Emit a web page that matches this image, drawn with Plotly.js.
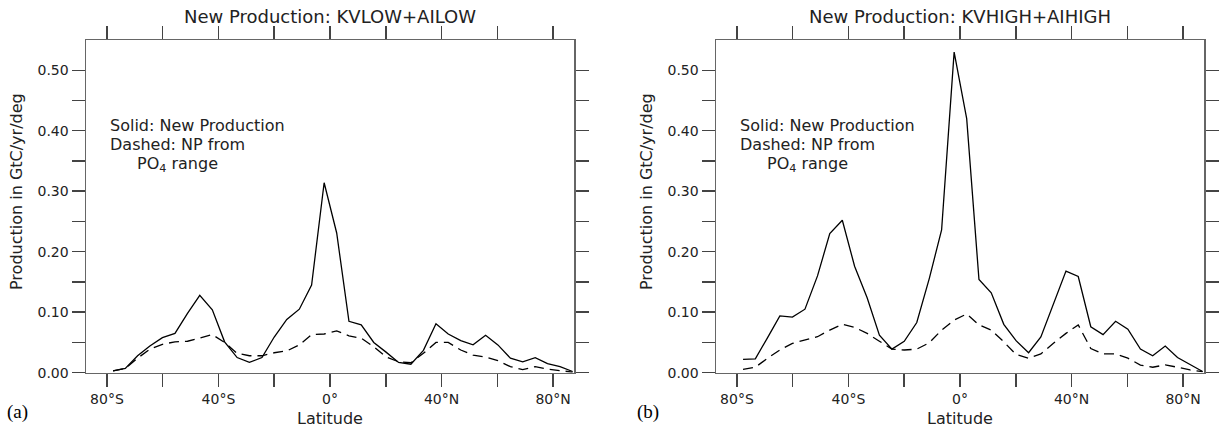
<!DOCTYPE html>
<html>
<head>
<meta charset="utf-8">
<script src="https://cdn.plot.ly/plotly-3.0.1.min.js"></script>
<style>html,body{margin:0;padding:0;background:#fff;}#chart{width:1220px;height:430px;}</style>
</head>
<body>
<div id="chart"></div>
<script>
// Latitude grid (degrees, negative = south)
const lat = [-77.8, -73.4, -69.0, -64.6, -60.1, -55.6, -51.1, -46.7, -42.2, -37.8,
  -33.3, -28.9, -24.4, -20.0, -15.5, -11.0, -6.6, -2.1, 2.4, 6.8,
  11.2, 15.7, 20.1, 24.6, 29.0, 33.5, 38.0, 42.4, 46.9, 51.3,
  55.8, 60.2, 64.7, 69.1, 73.6, 78.0, 82.5, 87.0];

// (a) KVLOW+AILOW
const lowSolid = [0.003, 0.007, 0.028, 0.044, 0.058, 0.065, 0.098, 0.128, 0.104, 0.051,
  0.025, 0.017, 0.025, 0.059, 0.088, 0.105, 0.145, 0.314, 0.231, 0.085,
  0.079, 0.050, 0.034, 0.017, 0.014, 0.037, 0.081, 0.064, 0.053, 0.046,
  0.062, 0.046, 0.024, 0.018, 0.025, 0.015, 0.010, 0.002];
const lowDashed = [0.003, 0.007, 0.024, 0.039, 0.047, 0.051, 0.052, 0.057, 0.063, 0.050,
  0.032, 0.028, 0.028, 0.033, 0.036, 0.046, 0.063, 0.064, 0.069, 0.061,
  0.057, 0.043, 0.026, 0.018, 0.0165, 0.032, 0.050, 0.050, 0.0375, 0.029,
  0.026, 0.020, 0.010, 0.005, 0.010, 0.006, 0.003, 0.001];

// (b) KVHIGH+AIHIGH
const highSolid = [0.022, 0.023, 0.058, 0.094, 0.092, 0.105, 0.160, 0.230, 0.252, 0.176,
  0.124, 0.062, 0.039, 0.052, 0.083, 0.156, 0.236, 0.530, 0.420, 0.154,
  0.132, 0.080, 0.053, 0.033, 0.059, 0.113, 0.168, 0.159, 0.076, 0.063,
  0.085, 0.072, 0.039, 0.028, 0.044, 0.025, 0.014, 0.002];
const highDashed = [0.0056, 0.009, 0.024, 0.0375, 0.0485, 0.054, 0.0595, 0.0705, 0.080, 0.075,
  0.065, 0.052, 0.039, 0.0375, 0.039, 0.0495, 0.0705, 0.087, 0.097, 0.079,
  0.0705, 0.051, 0.030, 0.024, 0.031, 0.0485, 0.065, 0.079, 0.040, 0.031,
  0.031, 0.024, 0.0127, 0.009, 0.013, 0.009, 0.0045, 0.0017];

// Ticks
const xTickVals = [-80, -60, -40, -20, 0, 20, 40, 60, 80];
const xTickText = ['80°S', '', '40°S', '', '0°', '', '40°N', '', '80°N'];
const yTickVals = [0, 0.05, 0.10, 0.15, 0.20, 0.25, 0.30, 0.35, 0.40, 0.45, 0.50];
const yTickText = ['0.00', '', '0.10', '', '0.20', '', '0.30', '', '0.40', '', '0.50'];

const panelTitles = ['New Production: KVLOW+AILOW', 'New Production: KVHIGH+AIHIGH'];
const panelLetters = ['(a)', '(b)'];
const yTitle = 'Production in GtC/yr/deg';
const noteLines = ['Solid: New Production', 'Dashed: NP from', 'PO<sub>4</sub> range'];

const FONT = 'DejaVu Sans, sans-serif';
const TXT = '#222';

function line(y, xa, ya, dashed) {
  return {
    x: lat, y: y, xaxis: xa, yaxis: ya, type: 'scatter', mode: 'lines',
    line: {color: '#000', width: 1.3, dash: dashed ? '10px,6px' : 'solid'},
    hoverinfo: 'skip', showlegend: false
  };
}

const data = [
  line(lowSolid, 'x', 'y', false),
  line(lowDashed, 'x', 'y', true),
  line(highSolid, 'x2', 'y2', false),
  line(highDashed, 'x2', 'y2', true)
];

function xax(domain, anchor) {
  return {
    domain: domain, anchor: anchor, range: [-87.5, 87.5], automargin: false,
    showgrid: false, zeroline: false, showline: true, linecolor: '#666', linewidth: 1.5,
    mirror: 'ticks', ticks: 'outside', ticklen: 13, tickwidth: 1.5, tickcolor: '#444',
    tickmode: 'array', tickvals: xTickVals, ticktext: xTickText,
    tickfont: {family: FONT, size: 14, color: TXT},
    title: {text: 'Latitude', font: {family: FONT, size: 16, color: TXT}, standoff: 7}
  };
}
function yax(anchor) {
  return {
    domain: [57.3 / 430, 390 / 430], anchor: anchor, range: [0, 0.55], automargin: false,
    showgrid: false, zeroline: false, showline: true, linecolor: '#666', linewidth: 1.5,
    mirror: 'ticks', ticks: 'outside', ticklen: 13, tickwidth: 1.5, tickcolor: '#444',
    tickmode: 'array', tickvals: yTickVals, ticktext: yTickText,
    tickfont: {family: FONT, size: 14, color: TXT}
  };
}

const annotations = [];
const xrefs = ['x', 'x2'];
const yrefs = ['y', 'y2'];
const xCenters = [330 / 1220, 960 / 1220];
for (let i = 0; i < 2; i++) {
  annotations.push({
    text: panelTitles[i], xref: 'paper', yref: 'paper', x: xCenters[i], y: (430 - 16) / 430,
    xanchor: 'center', yanchor: 'middle', showarrow: false,
    font: {family: FONT, size: 18, color: TXT}
  });
  annotations.push({
    text: panelLetters[i], xref: 'paper', yref: 'paper', x: (5 + 630 * i) / 1220, y: (430 - 412) / 430,
    xanchor: 'left', yanchor: 'middle', showarrow: false,
    font: {family: 'Liberation Serif, serif', size: 19, color: '#000'}
  });
  annotations.push({
    text: yTitle, xref: 'paper', yref: 'paper', x: (16 + 630 * i) / 1220, y: (430 - 192) / 430,
    xanchor: 'center', yanchor: 'middle', textangle: -90, showarrow: false,
    font: {family: FONT, size: 16, color: TXT}
  });
  const noteX = [-79.7, -79.7, -69.8];
  const noteY = [0.408, 0.377, 0.345];
  for (let k = 0; k < 3; k++) {
    annotations.push({
      text: noteLines[k], xref: xrefs[i], yref: yrefs[i], x: noteX[k], y: noteY[k],
      xanchor: 'left', yanchor: 'middle', showarrow: false,
      font: {family: FONT, size: 16, color: TXT}
    });
  }
}

const layout = {
  width: 1220, height: 430,
  margin: {l: 0, r: 0, t: 0, b: 0},
  paper_bgcolor: '#fff', plot_bgcolor: '#fff',
  showlegend: false,
  xaxis: xax([86 / 1220, 574 / 1220], 'y'),
  yaxis: yax('x'),
  xaxis2: xax([716 / 1220, 1204 / 1220], 'y2'),
  yaxis2: yax('x2'),
  annotations: annotations
};

Plotly.newPlot('chart', data, layout, {staticPlot: true, displayModeBar: false});
</script>
</body>
</html>
